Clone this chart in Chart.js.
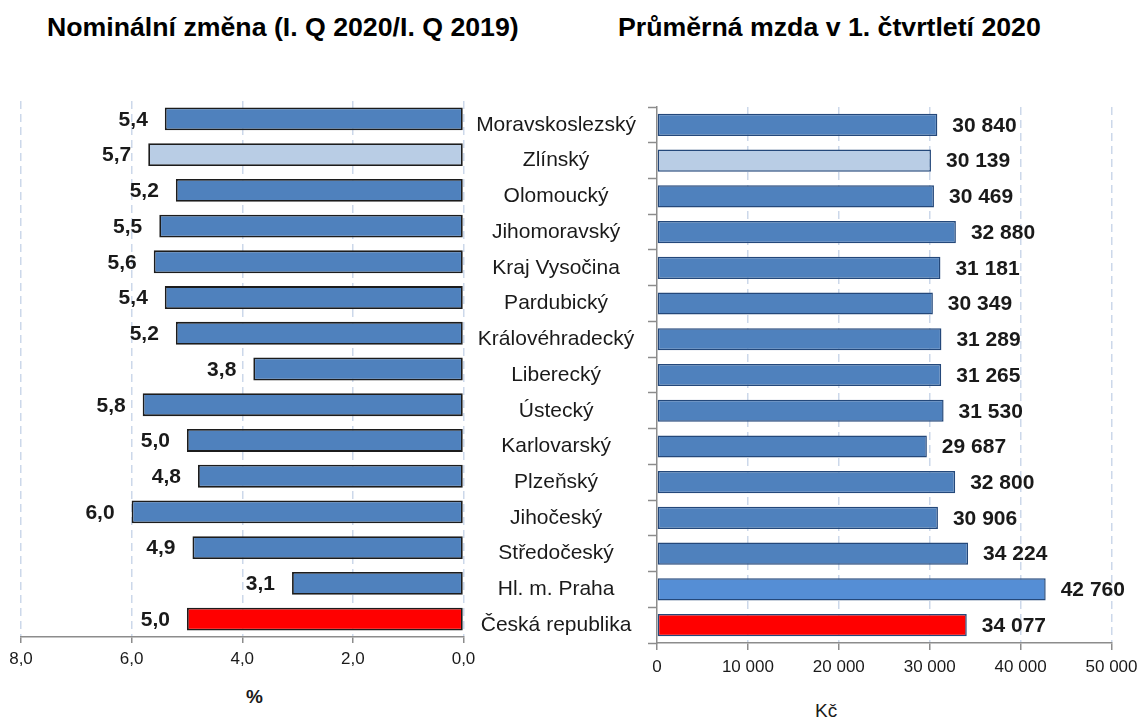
<!DOCTYPE html>
<html><head><meta charset="utf-8">
<script src="https://cdn.jsdelivr.net/npm/chart.js@4.4.1/dist/chart.umd.min.js"></script>
<style>
body{margin:0;width:1141px;height:717px;background:#fff;position:relative;overflow:hidden;font-family:"Liberation Sans",Arial,sans-serif}
canvas{position:absolute;top:0}
#c1{left:0}
#c2{left:470px}
.t{position:absolute;white-space:nowrap;color:#000;line-height:1}
</style></head><body>
<div class="t" style="left:47px;top:14px;font-weight:bold;font-size:26.7px">Nominální změna (I. Q 2020/I. Q 2019)</div>
<div class="t" style="left:618px;top:14px;font-weight:bold;font-size:26.7px">Průměrná mzda v 1. čtvrtletí 2020</div>
<div class="t" style="left:246px;top:687px;font-weight:bold;font-size:19px;color:#1a1a1a">%</div>
<div class="t" style="left:815px;top:701px;font-size:19px;color:#1a1a1a">Kč</div>
<canvas id="c1" width="490" height="717" style="width:490px;height:717px"></canvas>
<canvas id="c2" width="680" height="717" style="width:680px;height:717px"></canvas>
<script>
const regions = ["Moravskoslezský","Zlínský","Olomoucký","Jihomoravský","Kraj Vysočina","Pardubický","Královéhradecký","Liberecký","Ústecký","Karlovarský","Plzeňský","Jihočeský","Středočeský","Hl. m. Praha","Česká republika"];
const nominalChange = [5.4,5.7,5.2,5.5,5.6,5.4,5.2,3.8,5.8,5.0,4.8,6.0,4.9,3.1,5.0];
const averageWage = [30840,30139,30469,32880,31181,30349,31289,31265,31530,29687,32800,30906,34224,42760,34077];
const changeTicks = [0,2,4,6,8];
const wageTicks = [0,10000,20000,30000,40000,50000];

const BLUE='#4f81bd', LIGHT='#b9cde5', RED='#ff0000', PRAHA='#558ed5';
const leftColors = regions.map(r => r==='Zlínský'?LIGHT:(r==='Česká republika'?RED:BLUE));
const rightColors = regions.map(r => r==='Zlínský'?LIGHT:(r==='Česká republika'?RED:(r==='Hl. m. Praha'?PRAHA:BLUE)));

const fmtComma = v => Number(v).toFixed(1).replace('.', ',');
const fmtSpace = v => String(Math.round(v)).replace(/\B(?=(\d{3})+(?!\d))/g, ' ');

const valueLabels = {
  id:'valueLabels',
  afterDatasetsDraw(chart, args, opts){
    const ctx = chart.ctx; const meta = chart.getDatasetMeta(0);
    const data = chart.data.datasets[0].data;
    ctx.save();
    ctx.font = opts.font; ctx.fillStyle = '#1a1a1a'; ctx.textBaseline = 'middle';
    ctx.textAlign = opts.side === 'left' ? 'right' : 'left';
    meta.data.forEach((bar,i)=>{
      const x = opts.side === 'left' ? bar.x - opts.gap : bar.x + opts.gap;
      ctx.fillText(opts.format(data[i]), x, bar.y + 1);
    });
    ctx.restore();
  }
};

const GRID = '#ccd8ea', AXIS = '#8c8c8c', TXT = '#1a1a1a';
const FONT = '"Liberation Sans", Arial, sans-serif';

new Chart(document.getElementById('c1'), {
  type:'bar',
  data:{labels:regions, datasets:[{data:nominalChange, backgroundColor:leftColors, borderColor:'#1c1c1c', borderWidth:1.8, borderSkipped:false, barPercentage:0.64, categoryPercentage:1}]},
  options:{
    indexAxis:'y', responsive:false, animation:false,
    layout:{padding:{top:101,left:21,right:26.5,bottom:0}},
    plugins:{legend:{display:false}, tooltip:{enabled:false}, valueLabels:{side:'left', gap:17, font:'bold 21px '+FONT, format:fmtComma}},
    scales:{
      x:{min:0,max:8,reverse:true,
        afterBuildTicks: s => { s.ticks = changeTicks.map(v=>({value:v})); },
        afterFit: s => { s.height = 80; },
        ticks:{callback:v=>fmtComma(v), font:{size:17,family:FONT}, color:TXT, padding:6, maxRotation:0},
        grid:{color:GRID, lineWidth:1.5, tickColor:AXIS, tickLength:6, tickWidth:1.5},
        border:{display:true, color:AXIS, width:1.5, dash:[8,5]}
      },
      y:{display:false}
    }
  },
  plugins:[valueLabels]
});

new Chart(document.getElementById('c2'), {
  type:'bar',
  data:{labels:regions, datasets:[{data:averageWage, backgroundColor:rightColors, borderColor:'#24487a', borderWidth:1.5, borderSkipped:false, barPercentage:0.62, categoryPercentage:1}]},
  options:{
    indexAxis:'y', responsive:false, animation:false,
    layout:{padding:{top:107,left:0,right:38.5,bottom:0}},
    plugins:{legend:{display:false}, tooltip:{enabled:false}, valueLabels:{side:'right', gap:15, font:'bold 21px '+FONT, format:fmtSpace}},
    scales:{
      x:{min:0,max:50000,
        afterBuildTicks: s => { s.ticks = wageTicks.map(v=>({value:v})); },
        afterFit: s => { s.height = 74; },
        ticks:{callback:v=>fmtSpace(v), font:{size:17,family:FONT}, color:TXT, padding:7, maxRotation:0},
        grid:{color:(c)=> c.tick && c.tick.value===0 ? 'rgba(0,0,0,0)' : GRID, lineWidth:1.5, tickColor:AXIS, tickLength:7, tickWidth:1.5},
        border:{display:true, color:AXIS, width:1.5, dash:[8,5]}
      },
      y:{
        afterFit: s => { s.width = 187; },
        ticks:{crossAlign:'center', autoSkip:false, font:{size:21,family:FONT}, color:TXT, padding:12},
        grid:{offset:true, drawOnChartArea:false, tickColor:AXIS, tickLength:9, tickWidth:1.5},
        border:{display:true, color:AXIS, width:1.5}
      }
    }
  },
  plugins:[valueLabels]
});
</script>
</body></html>
